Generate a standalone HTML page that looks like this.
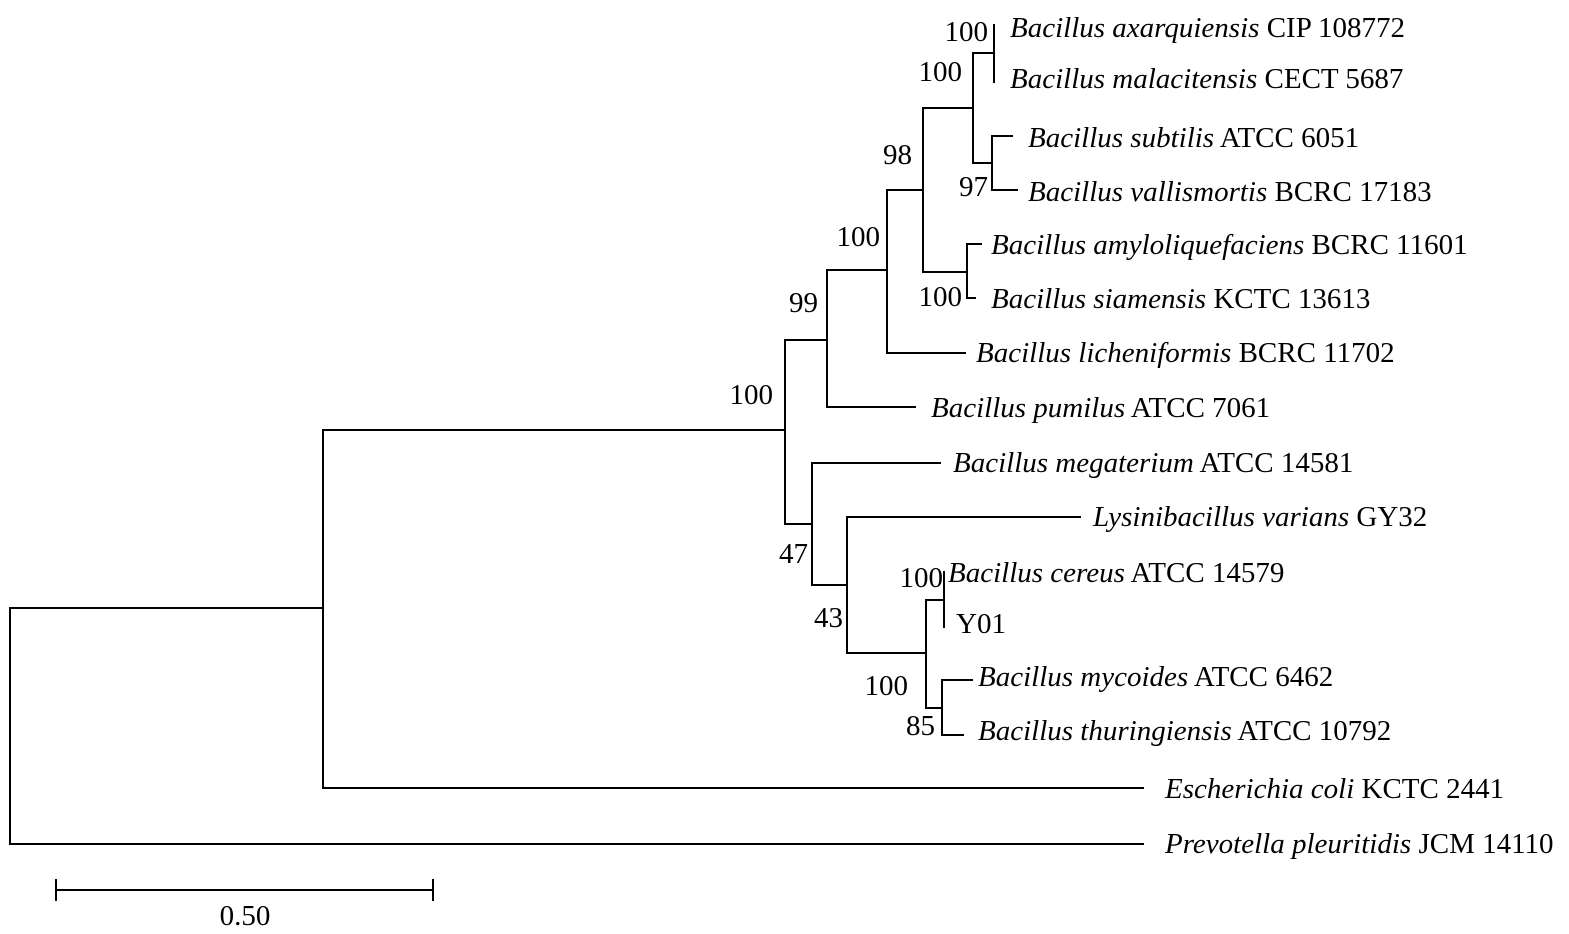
<!DOCTYPE html>
<html><head><meta charset="utf-8"><style>
html,body{margin:0;padding:0;background:#fff;}
svg{display:block;}
text{font-family:"Liberation Serif",serif;font-size:29px;fill:#000;}
.i{font-style:italic;}
</style></head><body>
<svg width="1569" height="934" viewBox="0 0 1569 934" xmlns="http://www.w3.org/2000/svg">
<g stroke="#000" stroke-width="2" fill="none" stroke-linecap="square">
<path d="M10 608 V844 H1143"/>
<path d="M10 608 H323"/>
<path d="M323 430 V788 H1143"/>
<path d="M323 430 H785"/>
<path d="M785 340 V524"/>
<path d="M785 340 H827"/>
<path d="M827 270 V407 H915"/>
<path d="M827 270 H887"/>
<path d="M887 190 V353 H965"/>
<path d="M887 190 H923"/>
<path d="M923 108 V272 H967"/>
<path d="M923 108 H973"/>
<path d="M973 53 V163 H992"/>
<path d="M973 53 H994"/>
<path d="M994 25 V82"/>
<path d="M992 136 V190 H1017"/>
<path d="M992 136 H1012"/>
<path d="M967 244 V298 H975"/>
<path d="M967 244 H981"/>
<path d="M785 524 H812"/>
<path d="M812 463 V585 H847"/>
<path d="M812 463 H940"/>
<path d="M847 517 V653 H926"/>
<path d="M847 517 H1080"/>
<path d="M926 600 V708 H942"/>
<path d="M926 600 H944"/>
<path d="M944 572 V627"/>
<path d="M942 680 V735 H963"/>
<path d="M942 680 H972"/>
<path d="M56 890 H433 M56 880 V900 M433 880 V900"/>
</g>
<text x="1010" y="37"><tspan class="i">Bacillus axarquiensis</tspan> CIP 108772</text>
<text x="1010" y="88"><tspan class="i">Bacillus malacitensis</tspan> CECT 5687</text>
<text x="1028" y="147"><tspan class="i">Bacillus subtilis</tspan> ATCC 6051</text>
<text x="1028" y="201"><tspan class="i">Bacillus vallismortis</tspan> BCRC 17183</text>
<text x="991" y="254"><tspan class="i">Bacillus amyloliquefaciens</tspan> BCRC 11601</text>
<text x="991" y="308"><tspan class="i">Bacillus siamensis</tspan> KCTC 13613</text>
<text x="976" y="362"><tspan class="i">Bacillus licheniformis</tspan> BCRC 11702</text>
<text x="931" y="417"><tspan class="i">Bacillus pumilus</tspan> ATCC 7061</text>
<text x="953" y="472"><tspan class="i">Bacillus megaterium</tspan> ATCC 14581</text>
<text x="1093" y="526"><tspan class="i">Lysinibacillus varians</tspan> GY32</text>
<text x="948" y="582"><tspan class="i">Bacillus cereus</tspan> ATCC 14579</text>
<text x="956" y="633">Y01</text>
<text x="978" y="686"><tspan class="i">Bacillus mycoides</tspan> ATCC 6462</text>
<text x="978" y="740"><tspan class="i">Bacillus thuringiensis</tspan> ATCC 10792</text>
<text x="1165" y="798"><tspan class="i">Escherichia coli</tspan> KCTC 2441</text>
<text x="1165" y="853"><tspan class="i">Prevotella pleuritidis</tspan> JCM 14110</text>
<g text-anchor="end">
<text x="988" y="41">100</text>
<text x="962" y="81">100</text>
<text x="912" y="164">98</text>
<text x="988" y="196">97</text>
<text x="880" y="246">100</text>
<text x="962" y="306">100</text>
<text x="818" y="312">99</text>
<text x="773" y="404">100</text>
<text x="808" y="563">47</text>
<text x="843" y="627">43</text>
<text x="943" y="587">100</text>
<text x="908" y="695">100</text>
<text x="935" y="735">85</text>
</g>
<text x="245" y="925" text-anchor="middle">0.50</text>
</svg>
</body></html>
